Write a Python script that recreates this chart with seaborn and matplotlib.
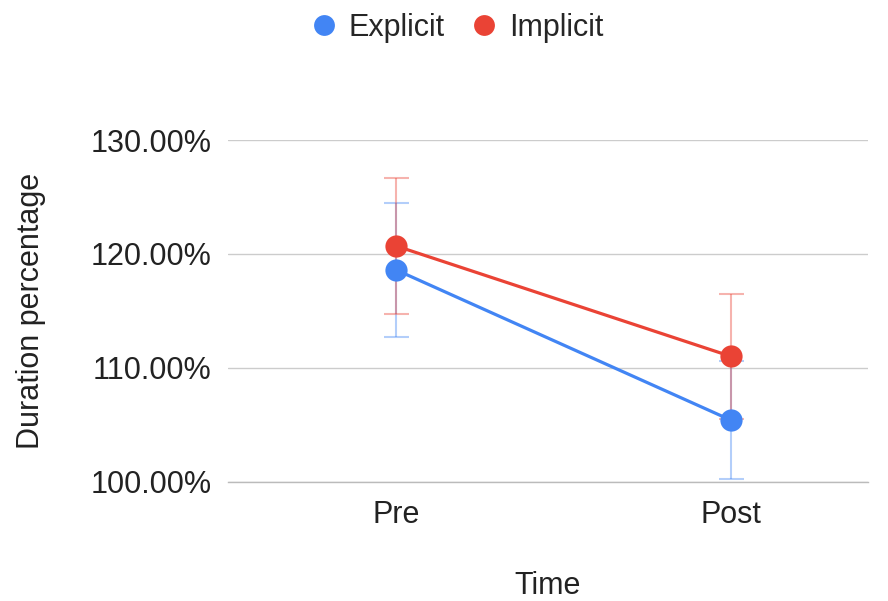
import matplotlib
matplotlib.use("Agg")
import matplotlib.pyplot as plt
import seaborn as sns
import pandas as pd
from matplotlib.lines import Line2D

# Data
times = ["Pre", "Post"]
explicit_mean = [118.6, 105.4]
explicit_err = [5.9, 5.2]
implicit_mean = [120.7, 111.0]
implicit_err = [6.0, 5.5]
y_ticks = [100, 110, 120, 130]
y_tick_labels = ["100.00%", "110.00%", "120.00%", "130.00%"]

blue = "#4285F4"
red = "#EA4335"

sns.set_theme(style="white")
plt.rcParams['font.family'] = ['Liberation Sans', 'DejaVu Sans']

df = pd.DataFrame({
    "Time": list(range(len(times))) * 2,
    "Value": explicit_mean + implicit_mean,
    "Group": ["Explicit"] * len(times) + ["Implicit"] * len(times),
})

fig = plt.figure(figsize=(8.88, 6.01), dpi=100)
ax = fig.add_axes([228/888, (601-481.7)/601, (868-228)/888, (481.7-140)/601])

# error bars (drawn first, lighter)
x = list(range(len(times)))
ax.errorbar(x, explicit_mean, yerr=explicit_err, fmt="none", ecolor=blue, alpha=0.4,
            elinewidth=1.5, capsize=9, capthick=1.5, zorder=2)
ax.errorbar(x, implicit_mean, yerr=implicit_err, fmt="none", ecolor=red, alpha=0.4,
            elinewidth=1.5, capsize=9, capthick=1.5, zorder=2)

sns.lineplot(data=df, x="Time", y="Value", hue="Group", palette={"Explicit": blue, "Implicit": red},
             marker="o", markersize=16, markeredgewidth=0, linewidth=2.3, ax=ax, legend=False, zorder=3)

ax.set_xlim(-0.5015, 1.409)
ax.set_ylim(100, 130)
ax.set_yticks(y_ticks)
ax.set_yticklabels(y_tick_labels)
ax.set_xticks(x)
ax.set_xticklabels(times)
ax.tick_params(axis="y", length=0, pad=12, labelsize=22, labelcolor="#222222")
ax.tick_params(axis="x", length=0, pad=13, labelsize=22, labelcolor="#222222")
ax.yaxis.grid(True, color="#cccccc", linewidth=1)
ax.set_axisbelow(True)
for s in ["top", "right", "left"]:
    ax.spines[s].set_visible(False)
ax.spines["bottom"].set_color("#bbbbbb")
ax.spines["bottom"].set_linewidth(1)

ax.set_xlabel("Time", fontsize=22, color="#222222", labelpad=30)
ax.set_ylabel("Duration percentage", fontsize=22, color="#222222", labelpad=32)

handles = [Line2D([], [], marker="o", linestyle="none", markersize=15, markerfacecolor=blue, markeredgewidth=0),
           Line2D([], [], marker="o", linestyle="none", markersize=15, markerfacecolor=red, markeredgewidth=0)]
fig.legend(handles, ["Explicit", "Implicit"], loc="center", bbox_to_anchor=(456/888, 1 - 28/601),
           ncol=2, frameon=False, fontsize=22, handletextpad=0.3, columnspacing=0.8, handlelength=1.0)

fig.savefig("out.png", dpi=100)
